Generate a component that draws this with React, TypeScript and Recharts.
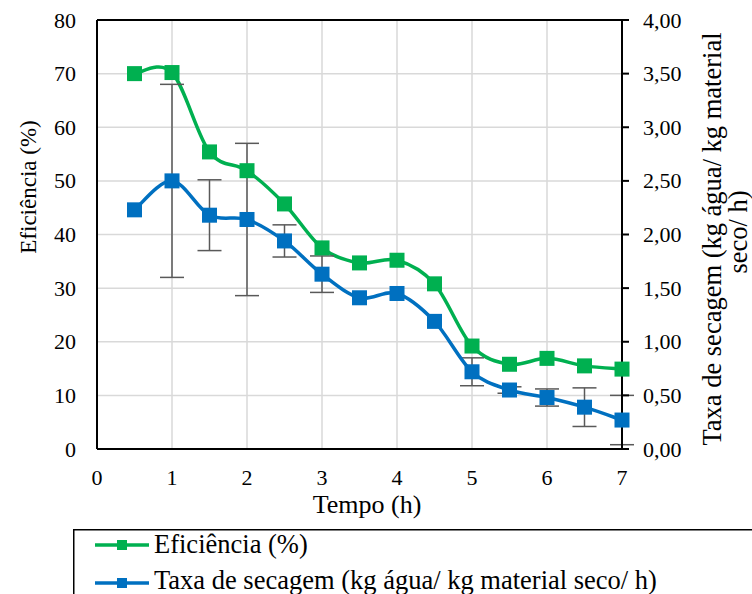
import { CartesianGrid, ComposedChart, ErrorBar, Label, Legend, Line, ReferenceLine, XAxis, YAxis } from 'recharts'

const FONT = '"Liberation Serif", "Times New Roman", serif'

// tempo (h)
const tempo = [0.5, 1, 1.5, 2, 2.5, 3, 3.5, 4, 4.5, 5, 5.5, 6, 6.5, 7]
// Eficiência (%)
const eficiencia = [70.0, 70.2, 55.4, 51.9, 45.7, 37.5, 34.7, 35.2, 30.8, 19.2, 15.8, 16.9, 15.5, 14.9]
// Taxa de secagem (kg água/ kg material seco/ h)
const taxaSecagem = [2.23, 2.5, 2.18, 2.14, 1.94, 1.63, 1.41, 1.45, 1.19, 0.72, 0.55, 0.48, 0.39, 0.27]
const taxaErro = [null, 0.9, 0.33, 0.71, 0.15, 0.17, null, null, null, 0.13, 0.03, 0.08, 0.18, 0.23]

const tempoTicks = [0, 1, 2, 3, 4, 5, 6, 7]
const eficienciaTicks = [0, 10, 20, 30, 40, 50, 60, 70, 80]
const taxaTicks = [0, 0.5, 1, 1.5, 2, 2.5, 3, 3.5, 4]

const GREEN = '#00B050'
const BLUE = '#0070C0'

const data = tempo.map((t, i) => ({
  tempo: t,
  eficiencia: eficiencia[i],
  taxa: taxaSecagem[i],
  erro: taxaErro[i],
}))

// Excel-like smoothed line (Catmull-Rom as cubic bezier)
const excelSmooth = (context: any) => {
  let pts: [number, number][] = []
  return {
    areaStart() {},
    areaEnd() {},
    lineStart() {
      pts = []
    },
    lineEnd() {
      if (!pts.length) return
      context.moveTo(pts[0][0], pts[0][1])
      for (let i = 0; i < pts.length - 1; i++) {
        const p0 = pts[i - 1] || pts[i]
        const p1 = pts[i]
        const p2 = pts[i + 1]
        const p3 = pts[i + 2] || p2
        context.bezierCurveTo(
          p1[0] + (p2[0] - p0[0]) / 6,
          p1[1] + (p2[1] - p0[1]) / 6,
          p2[0] - (p3[0] - p1[0]) / 6,
          p2[1] - (p3[1] - p1[1]) / 6,
          p2[0],
          p2[1],
        )
      }
    },
    point(x: number, y: number) {
      pts.push([x, y])
    },
  }
}

const square = (fill: string, size: number) => (props: any) => {
  const { cx, cy, index } = props
  if (cx == null || cy == null) return <g key={`e-${index}`} />
  return <rect key={`sq-${index}`} x={cx - size / 2} y={cy - size / 2} width={size} height={size} fill={fill} />
}

const renderLegend = ({ payload }: any) => (
  <svg width={700} height={80} style={{ display: 'block' }}>
    <rect x={0.75} y={0.75} width={720} height={120} fill="#fff" stroke="#000" strokeWidth={1.5} />
    {(payload || []).map((entry: any, i: number) => {
      const y = 16 + i * 38
      return (
        <g key={entry.value}>
          <line x1={22} x2={76} y1={y} y2={y} stroke={entry.color} strokeWidth={3.5} />
          <rect x={44} y={y - 5} width={10} height={10} fill={entry.color} />
          <text x={81} y={y + 8 - i * 2} fontFamily={FONT} fontSize={26.5} fill="#000">
            {entry.value}
          </text>
        </g>
      )
    })}
  </svg>
)

const xTick = (props: any) => {
  const { x, y, payload } = props
  return (
    <text x={x} y={y} dy={13} textAnchor="middle" fontFamily={FONT} fontSize={22} fill="#000">
      {payload.value}
    </text>
  )
}

const leftTick = (props: any) => {
  const { x, y, payload } = props
  return (
    <text x={x} y={y} dy={7.5} textAnchor="end" fontFamily={FONT} fontSize={22} fill="#000">
      {payload.value}
    </text>
  )
}

const rightTick = (props: any) => {
  const { x, y, payload } = props
  return (
    <text x={x} y={y} dy={7.5} textAnchor="start" fontFamily={FONT} fontSize={22} fill="#000">
      {payload.value.toFixed(2).replace('.', ',')}
    </text>
  )
}

export default function App() {
  return (
    <div
      style={{
        position: 'absolute',
        left: 0,
        top: 0,
        width: 752,
        height: 594,
        overflow: 'hidden',
        background: '#fff',
        fontFamily: FONT,
      }}
    >
      <ComposedChart width={752} height={594} data={data} margin={{ top: 20, right: 0, bottom: 85, left: 0 }}>
        <CartesianGrid yAxisId="left" stroke="#d9d9d9" strokeWidth={1.5} />
        <XAxis
          dataKey="tempo"
          type="number"
          domain={[0, 7]}
          ticks={tempoTicks}
          height={60}
          tickLine={false}
          tickSize={0}
          tickMargin={23}
          tick={xTick}
          axisLine={{ stroke: '#000', strokeWidth: 2 }}
        >
          <Label
            content={() => (
              <text x={367} y={513} textAnchor="middle" fontFamily={FONT} fontSize={26} fill="#000">
                Tempo (h)
              </text>
            )}
          />
        </XAxis>
        <YAxis
          yAxisId="left"
          domain={[0, 80]}
          ticks={eficienciaTicks}
          width={97}
          tickLine={false}
          tickSize={0}
          tickMargin={21}
          tick={leftTick}
          axisLine={{ stroke: '#000', strokeWidth: 2 }}
        >
          <Label
            content={() => (
              <text
                x={28}
                y={187}
                transform="rotate(-90 28 187)"
                textAnchor="middle"
                dominantBaseline="central"
                fontFamily={FONT}
                fontSize={23}
                fill="#000"
              >
                Eficiência (%)
              </text>
            )}
          />
        </YAxis>
        <YAxis
          yAxisId="right"
          orientation="right"
          domain={[0, 4]}
          ticks={taxaTicks}
          width={130}
          tickSize={7}
          tickMargin={14}
          tickLine={{ stroke: '#000', strokeWidth: 2 }}
          tick={rightTick}
          axisLine={{ stroke: '#000', strokeWidth: 2 }}
        >
          <Label
            content={() => (
              <g fontFamily={FONT} fontSize={26.5} fill="#000">
                <text x={712} y={239} transform="rotate(-90 712 239)" textAnchor="middle" dominantBaseline="central">
                  Taxa de secagem (kg água/ kg material
                </text>
                <text x={738} y={232} transform="rotate(-90 738 232)" textAnchor="middle" dominantBaseline="central">
                  seco/ h)
                </text>
              </g>
            )}
          />
        </YAxis>
        <ReferenceLine yAxisId="left" y={80} stroke="#000" strokeWidth={2} />
        <Legend
          layout="horizontal"
          verticalAlign="middle"
          align="center"
          content={renderLegend}
          wrapperStyle={{ position: 'absolute', left: 73, top: 529, width: 700, height: 80 }}
        />
        <Line
          yAxisId="left"
          dataKey="eficiencia"
          name="Eficiência (%)"
          type={excelSmooth as any}
          stroke={GREEN}
          strokeWidth={3.5}
          dot={square(GREEN, 15)}
          activeDot={false}
          isAnimationActive={false}
        />
        <Line
          yAxisId="right"
          dataKey="taxa"
          name="Taxa de secagem (kg água/ kg material seco/ h)"
          type={excelSmooth as any}
          stroke={BLUE}
          strokeWidth={3.5}
          dot={square(BLUE, 15)}
          activeDot={false}
          isAnimationActive={false}
        >
          <ErrorBar dataKey="erro" direction="y" width={12} strokeWidth={1.5} stroke="#595959" />
        </Line>
      </ComposedChart>
    </div>
  )
}
